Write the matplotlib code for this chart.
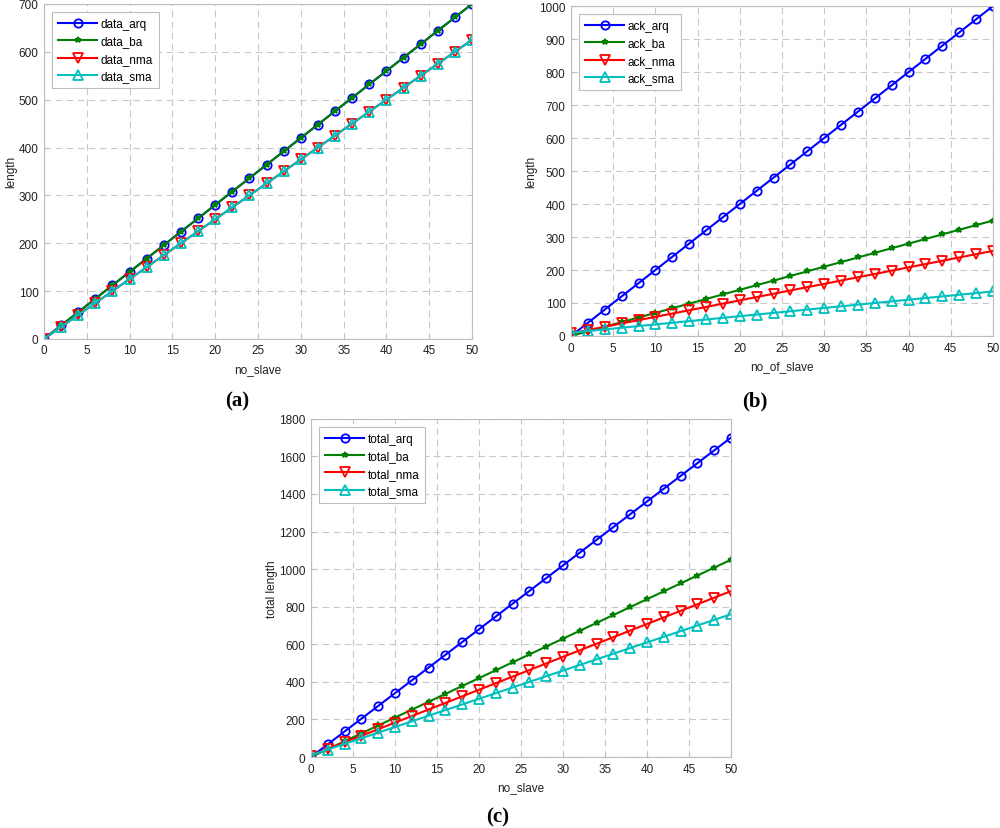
import matplotlib
matplotlib.use('Agg')
import matplotlib.pyplot as plt

plt.rcParams['font.family'] = ['Liberation Sans', 'DejaVu Sans']

# number of slaves
no_slave = [0, 2, 4, 6, 8, 10, 12, 14, 16, 18, 20, 22, 24, 26, 28, 30,
            32, 34, 36, 38, 40, 42, 44, 46, 48, 50]

# (a) data length
data_arq = [0, 28, 56, 84, 112, 140, 168, 196, 224, 252, 280, 308, 336, 364,
            392, 420, 448, 476, 504, 532, 560, 588, 616, 644, 672, 700]
data_ba = [0, 28, 56, 84, 112, 140, 168, 196, 224, 252, 280, 308, 336, 364,
           392, 420, 448, 476, 504, 532, 560, 588, 616, 644, 672, 700]
data_nma = [0, 25, 50, 75, 100, 125, 150, 175, 200, 225, 250, 275, 300, 325,
            350, 375, 400, 425, 450, 475, 500, 525, 550, 575, 600, 625]
data_sma = [0, 25, 50, 75, 100, 125, 150, 175, 200, 225, 250, 275, 300, 325,
            350, 375, 400, 425, 450, 475, 500, 525, 550, 575, 600, 625]

# (b) ack length
ack_arq = [0, 40, 80, 120, 160, 200, 240, 280, 320, 360, 400, 440, 480, 520,
           560, 600, 640, 680, 720, 760, 800, 840, 880, 920, 960, 1000]
ack_ba = [0, 14, 28, 42, 56, 70, 84, 98, 112, 126, 140, 154, 168, 182,
          196, 210, 224, 238, 252, 266, 280, 294, 308, 322, 336, 350]
ack_nma = [8, 18, 28, 38, 48, 58, 68, 78, 88, 98, 108, 118, 128, 138,
           148, 158, 168, 178, 188, 198, 208, 218, 228, 238, 248, 258]
ack_sma = [10, 15, 20, 25, 30, 35, 40, 45, 50, 55, 60, 65, 70, 75,
           80, 85, 90, 95, 100, 105, 110, 115, 120, 125, 130, 135]

# (c) total length
total_arq = [0, 68, 136, 204, 272, 340, 408, 476, 544, 612, 680, 748, 816, 884,
             952, 1020, 1088, 1156, 1224, 1292, 1360, 1428, 1496, 1564, 1632, 1700]
total_ba = [0, 42, 84, 126, 168, 210, 252, 294, 336, 378, 420, 462, 504, 546,
            588, 630, 672, 714, 756, 798, 840, 882, 924, 966, 1008, 1050]
total_nma = [8, 43, 78, 113, 148, 183, 218, 253, 288, 323, 358, 393, 428, 463,
             498, 533, 568, 603, 638, 673, 708, 743, 778, 813, 848, 883]
total_sma = [10, 40, 70, 100, 130, 160, 190, 220, 250, 280, 310, 340, 370, 400,
             430, 460, 490, 520, 550, 580, 610, 640, 670, 700, 730, 760]

styles = [dict(color=(0, 0, 1), marker='o', ms=6),
          dict(color=(0, 0.5, 0), marker='*', ms=4),
          dict(color=(1, 0, 0), marker='v', ms=7),
          dict(color=(0, 0.75, 0.75), marker='^', ms=7)]


def panel(ax, series, labels, ymax, ystep, xlabel, ylabel):
    for s, lab, st in zip(series, labels, styles):
        ax.plot(no_slave, s, color=st['color'], marker=st['marker'], ms=st['ms'],
                mfc='none', mew=1.3, lw=1.5, label=lab)
    ax.set_xlim(0, 50)
    ax.set_ylim(0, ymax)
    ax.set_xticks(range(0, 51, 5))
    ax.set_yticks(range(0, ymax + 1, ystep))
    ax.grid(True, color='#c8c8c8', linestyle=(0, (6, 4)), linewidth=0.8)
    for sp in ax.spines.values():
        sp.set_color('#bdbdbd')
        sp.set_linewidth(0.8)
    ax.tick_params(direction='in', length=3, color='#bdbdbd', labelsize=8.5,
                   labelcolor='#222222', pad=4)
    ax.set_xlabel(xlabel, fontsize=8.5, color='#222222', labelpad=5)
    ax.set_ylabel(ylabel, fontsize=8.5, color='#222222', labelpad=1)
    leg = ax.legend(loc='upper left', fontsize=8.5, handlelength=3.3,
                    borderpad=0.5, labelspacing=0.45, handletextpad=0.3,
                    borderaxespad=0.7, fancybox=False, framealpha=1)
    leg.get_frame().set_edgecolor('#bdbdbd')
    leg.get_frame().set_linewidth(0.8)


fig = plt.figure(figsize=(10, 8.29), dpi=100)

ax1 = fig.add_axes([0.044, 0.590, 0.428, 0.404])
panel(ax1, [data_arq, data_ba, data_nma, data_sma],
      ['data_arq', 'data_ba', 'data_nma', 'data_sma'], 700, 100, 'no_slave', 'length')

ax2 = fig.add_axes([0.571, 0.5935, 0.422, 0.398])
panel(ax2, [ack_arq, ack_ba, ack_nma, ack_sma],
      ['ack_arq', 'ack_ba', 'ack_nma', 'ack_sma'], 1000, 100, 'no_of_slave', 'length')

ax3 = fig.add_axes([0.311, 0.0856, 0.420, 0.408])
panel(ax3, [total_arq, total_ba, total_nma, total_sma],
      ['total_arq', 'total_ba', 'total_nma', 'total_sma'], 1800, 200, 'no_slave', 'total length')

lab_font = dict(family='Liberation Serif', weight='bold', fontsize=15, ha='center', va='center')
fig.text(0.237, 1 - 401 / 829, '(a)', **lab_font)
fig.text(0.755, 1 - 401 / 829, '(b)', **lab_font)
fig.text(0.498, 1 - 817 / 829, '(c)', **lab_font)

fig.savefig('out.png', dpi=100)
